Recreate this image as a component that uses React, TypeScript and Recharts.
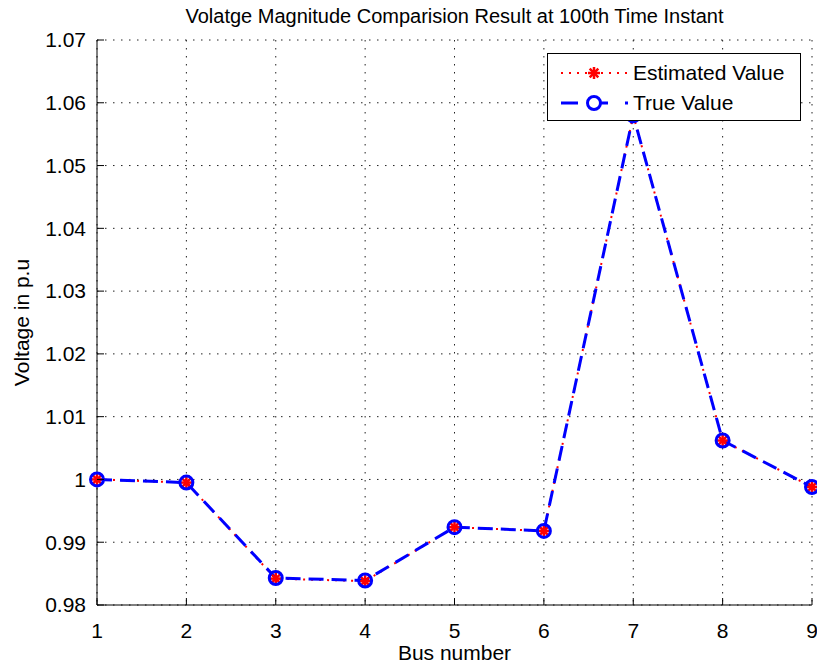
import { LineChart, Line, XAxis, YAxis, CartesianGrid, Label } from "recharts";

const busNumbers = [1, 2, 3, 4, 5, 6, 7, 8, 9];
const estimatedValue = [1.0, 0.9995, 0.9842, 0.9838, 0.9924, 0.9918, 1.058, 1.0062, 0.9988];
const trueValue = [1.0, 0.9995, 0.9843, 0.9839, 0.9924, 0.9918, 1.058, 1.0062, 0.9988];
const xTicks = [1, 2, 3, 4, 5, 6, 7, 8, 9];
const yTicks = [0.98, 0.99, 1.0, 1.01, 1.02, 1.03, 1.04, 1.05, 1.06, 1.07];

const data = busNumbers.map((bus, i) => ({
  bus,
  estimated: estimatedValue[i],
  actual: trueValue[i],
}));

const FONT = '"Liberation Sans", Arial, sans-serif';
const RED = "#ff0000";
const BLUE = "#0000ff";
const TICK_LEN = 7;

const fmt = (v: number) => String(Number(v.toFixed(2)));

const Star = ({ cx, cy, r = 6 }: any) => {
  const d = r * 0.72;
  return (
    <g stroke={RED} strokeWidth={2.5}>
      <line x1={cx - r} x2={cx + r} y1={cy} y2={cy} />
      <line x1={cx} x2={cx} y1={cy - r} y2={cy + r} />
      <line x1={cx - d} x2={cx + d} y1={cy - d} y2={cy + d} />
      <line x1={cx - d} x2={cx + d} y1={cy + d} y2={cy - d} />
    </g>
  );
};

const starDot = (props: any) => <Star key={`s${props.index}`} cx={props.cx} cy={props.cy} />;
const circleDot = (props: any) => (
  <circle key={`c${props.index}`} cx={props.cx} cy={props.cy} r={6.5} fill="none" stroke={BLUE} strokeWidth={3} />
);

const LeftTick = ({ x, y, payload }: any) => (
  <g>
    <line x1={x} x2={x + TICK_LEN} y1={y} y2={y} stroke="#000" />
    <text x={x - 11} y={y} dy="0.35em" textAnchor="end" fontSize={21} fill="#000" fontFamily={FONT}>
      {fmt(payload.value)}
    </text>
  </g>
);

const RightTick = ({ x, y }: any) => <line x1={x - TICK_LEN} x2={x} y1={y} y2={y} stroke="#000" />;

const BottomTick = ({ x, y, payload }: any) => (
  <g>
    <line x1={x} x2={x} y1={y} y2={y - TICK_LEN} stroke="#000" />
    <text x={x} y={y + 33} textAnchor="middle" fontSize={21} fill="#000" fontFamily={FONT}>
      {payload.value}
    </text>
  </g>
);

const TopTick = ({ x, y }: any) => <line x1={x} x2={x} y1={y} y2={y + TICK_LEN} stroke="#000" />;

const LegendBox = () => (
  <div
    style={{
      position: "absolute",
      left: 547,
      top: 53,
      width: 254,
      height: 68,
      boxSizing: "border-box",
      border: "1px solid #000",
      background: "#fff",
    }}
  >
    <svg width={252} height={66} style={{ display: "block" }}>
      <line x1={13} x2={80} y1={19} y2={19} stroke={RED} strokeWidth={2} strokeDasharray="2 6" />
      <Star cx={46} cy={19} />
      <text x={85} y={19} dy="0.35em" fontSize={21} fill="#000" fontFamily={FONT}>
        Estimated Value
      </text>
      <line x1={13} x2={80} y1={49} y2={49} stroke={BLUE} strokeWidth={3} strokeDasharray="17 13 17" />
      <circle cx={46} cy={49} r={6.5} fill="#fff" stroke={BLUE} strokeWidth={3} />
      <text x={85} y={49} dy="0.35em" fontSize={21} fill="#000" fontFamily={FONT}>
        True Value
      </text>
    </svg>
  </div>
);

export default function App() {
  return (
    <div style={{ position: "absolute", left: 0, top: 0, width: 817, height: 668, background: "#fff", fontFamily: FONT }}>
      <div
        style={{
          position: "absolute",
          left: 97,
          width: 715,
          top: 4,
          textAlign: "center",
          fontSize: 20,
          lineHeight: "24px",
          color: "#000",
          whiteSpace: "nowrap",
        }}
      >
        Volatge Magnitude Comparision Result at 100th Time Instant
      </div>
      <LineChart width={817} height={668} data={data} margin={{ top: 40, right: 5, bottom: 0, left: 0 }}>
        <CartesianGrid stroke="#222" strokeDasharray="1.5 6.5" />
        <XAxis
          dataKey="bus"
          type="number"
          domain={[1, 9]}
          ticks={xTicks}
          interval={0}
          height={63}
          tickSize={0}
          tickMargin={0}
          tickLine={false}
          tick={<BottomTick />}
          axisLine={{ stroke: "#000" }}
        >
          <Label
            content={({ viewBox }: any) => (
              <text
                x={viewBox.x + viewBox.width / 2}
                y={viewBox.y + 55}
                textAnchor="middle"
                fontSize={21}
                fill="#000"
                fontFamily={FONT}
              >
                Bus number
              </text>
            )}
          />
        </XAxis>
        <XAxis
          xAxisId="top"
          orientation="top"
          type="number"
          domain={[1, 9]}
          ticks={xTicks}
          interval={0}
          height={0}
          tickSize={0}
          tickMargin={0}
          tickLine={false}
          tick={<TopTick />}
          axisLine={{ stroke: "#000" }}
          allowDataOverflow
        />
        <YAxis
          type="number"
          domain={[0.98, 1.07]}
          ticks={yTicks}
          interval={0}
          width={97}
          tickSize={0}
          tickMargin={0}
          tickLine={false}
          tick={<LeftTick />}
          axisLine={{ stroke: "#000" }}
          allowDataOverflow
        >
          <Label
            content={({ viewBox }: any) => {
              const cx = viewBox.x + 22;
              const cy = viewBox.y + viewBox.height / 2;
              return (
                <text
                  x={cx}
                  y={cy}
                  transform={`rotate(-90 ${cx} ${cy})`}
                  textAnchor="middle"
                  dy="0.35em"
                  fontSize={21}
                  fill="#000"
                  fontFamily={FONT}
                >
                  Voltage in p.u
                </text>
              );
            }}
          />
        </YAxis>
        <YAxis
          yAxisId="right"
          orientation="right"
          type="number"
          domain={[0.98, 1.07]}
          ticks={yTicks}
          interval={0}
          width={0}
          tickSize={0}
          tickMargin={0}
          tickLine={false}
          tick={<RightTick />}
          axisLine={{ stroke: "#000" }}
          allowDataOverflow
        />
        <Line
          type="linear"
          dataKey="estimated"
          stroke={RED}
          strokeWidth={2}
          strokeDasharray="2 6"
          dot={starDot}
          activeDot={false}
          isAnimationActive={false}
        />
        <Line
          type="linear"
          dataKey="actual"
          stroke={BLUE}
          strokeWidth={3}
          strokeDasharray="15 8"
          dot={circleDot}
          activeDot={false}
          isAnimationActive={false}
        />
      </LineChart>
      <LegendBox />
    </div>
  );
}
